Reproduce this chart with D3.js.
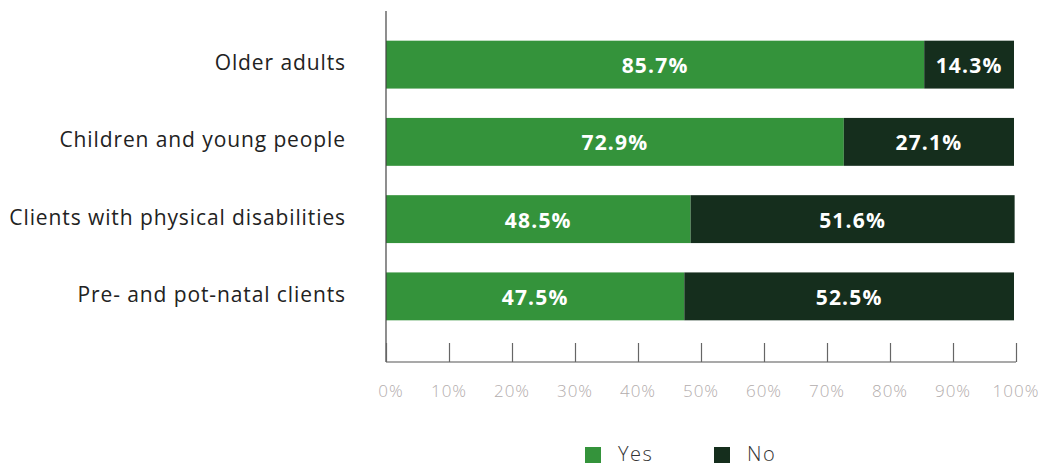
<!DOCTYPE html>
<html>
<head>
<meta charset="utf-8">
<script src="https://cdn.jsdelivr.net/npm/d3@7/dist/d3.min.js"></script>
<style>
  html, body { margin: 0; padding: 0; background: #fff; }
  svg { display: block; }
</style>
</head>
<body>
<svg id="chart" width="1042" height="466"></svg>
<script>
// Share of respondents answering Yes / No per client group
const categories = ["Older adults", "Children and young people", "Clients with physical disabilities", "Pre- and pot-natal clients"];
const yesValues = [85.7, 72.9, 48.5, 47.5];
const noValues = [14.3, 27.1, 51.6, 52.5];
const tickValues = [0, 10, 20, 30, 40, 50, 60, 70, 80, 90, 100];
const seriesNames = ["Yes", "No"];
const seriesColors = ["#34933b", "#152e1d"];

const svg = d3.select("#chart");
const font = "'Open Sans', sans-serif";

const x = d3.scaleLinear().domain([0, 100]).range([386, 1014]);
// axis ticks run a little past the bar scale
const xAxisScale = d3.scaleLinear().domain([0, 100]).range([386, 1016]);
const y = d3.scaleBand().domain(categories).range([26, 335]).paddingInner(0.38).paddingOuter(0.19);

const rows = categories.map((c, i) => ({ cat: c, values: [yesValues[i], noValues[i]] }));

// stacked segments with centred value labels
rows.forEach(r => {
  let start = 0;
  r.values.forEach((v, j) => {
    const g = svg.append("g");
    g.append("rect")
      .attr("x", x(start))
      .attr("y", y(r.cat))
      .attr("width", x(start + v) - x(start))
      .attr("height", y.bandwidth())
      .attr("fill", seriesColors[j]);
    g.append("text")
      .attr("x", (x(start) + x(start + v)) / 2)
      .attr("y", y(r.cat) + y.bandwidth() / 2 + 1)
      .attr("dy", "0.36em")
      .attr("text-anchor", "middle")
      .attr("fill", "#fff")
      .attr("font-family", font)
      .attr("font-weight", 700)
      .attr("font-size", 21)
      .attr("letter-spacing", 1.2)
      .text(v.toFixed(1) + "%");
    start += v;
  });
});

// category labels
svg.append("g").selectAll("text")
  .data(categories)
  .join("text")
  .attr("x", 346)
  .attr("y", d => y(d) + y.bandwidth() / 2 - 2)
  .attr("dy", "0.36em")
  .attr("text-anchor", "end")
  .attr("fill", "#222")
  .attr("font-family", font)
  .attr("font-size", 21)
  .attr("letter-spacing", 0.9)
  .text(d => d);

// vertical axis line
svg.append("line")
  .attr("x1", x(0)).attr("x2", x(0))
  .attr("y1", 11).attr("y2", 362)
  .attr("stroke", "#444").attr("stroke-width", 1.2);

// horizontal axis with upward ticks
const xAxis = d3.axisBottom(xAxisScale)
  .tickValues(tickValues)
  .tickSize(-19)
  .tickPadding(0)
  .tickFormat(() => "");
const ax = svg.append("g").attr("transform", "translate(0,362)").call(xAxis);
ax.select(".domain").attr("stroke", "#555").attr("stroke-width", 1.2)
  .attr("d", `M${xAxisScale(0)},0H${xAxisScale(100)}`);
ax.selectAll(".tick line").attr("stroke", "#666").attr("stroke-width", 1.2);

// tick labels
svg.append("g").selectAll("text")
  .data(tickValues)
  .join("text")
  .attr("x", d => xAxisScale(d) + (d === 0 ? 5 : 0))
  .attr("y", 391)
  .attr("dy", "0.36em")
  .attr("text-anchor", "middle")
  .attr("fill", "#b3adad")
  .attr("font-family", font)
  .attr("font-weight", 300)
  .attr("font-size", 17)
  .attr("letter-spacing", 1)
  .text(d => d + "%");

// legend
const legendX = [585, 714];
const lg = svg.append("g");
seriesNames.forEach((s, i) => {
  lg.append("rect")
    .attr("x", legendX[i]).attr("y", 447)
    .attr("width", 16).attr("height", 16)
    .attr("fill", seriesColors[i]);
  lg.append("text")
    .attr("x", legendX[i] + 33).attr("y", 461)
    .attr("fill", "#333")
    .attr("font-family", font)
    .attr("font-weight", 300)
    .attr("font-size", 20)
    .attr("letter-spacing", 1.5)
    .text(s);
});
</script>
</body>
</html>
